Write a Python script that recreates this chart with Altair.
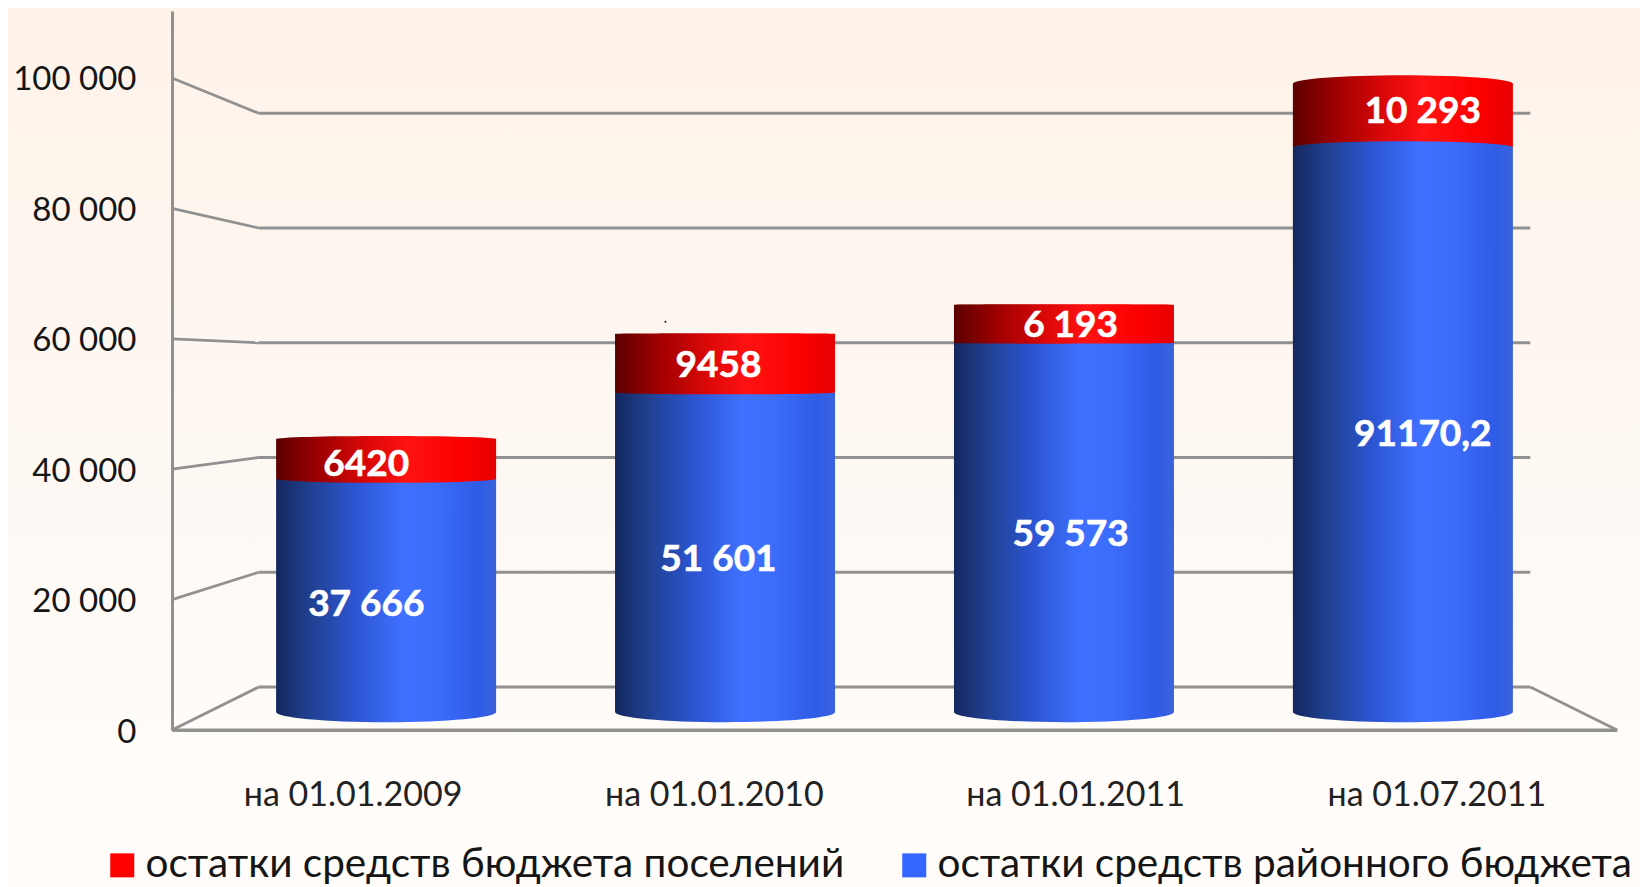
import json
import altair as alt
import pandas as pd

dates = ["на 01.01.2009", "на 01.01.2010", "на 01.01.2011", "на 01.07.2011"]
district = [37666, 51601, 59573, 91170.2]
settlement = [6420, 9458, 6193, 10293]
district_text = ["37 666", "51 601", "59 573", "91170,2"]
settlement_text = ["6420", "9458", "6 193", "10 293"]
ticks = [0, 20000, 40000, 60000, 80000, 100000]
series = ["остатки средств бюджета поселений", "остатки средств районного бюджета"]

FONT = "Lato"
GREY = "#919191"
W, H = 1445, 719
Y_MAX = 110276
PX_PER_UNIT = 652 / 100000     # front wall: 100 000 spans 652 px
HALF = 110 / (W / 4)           # bar half width in category units
HORIZON = 62883


def gy(v, d):
    """depth projection of a value onto the front-wall scale"""
    return v * (1 - 0.12 * d) + 6595 * d


def gx(c, d):
    return 2 + (c - 2) * (1 - 0.12 * d)


def ellipse(v):
    k = 0.036 if v > HORIZON else 0.026
    ry = k * abs(v - HORIZON) * PX_PER_UNIT
    r = round(max(ry, 0.6) / 110, 4)
    return f"M-1,0A1,{r} 0 0 0 1,0A1,{r} 0 0 0 -1,0Z"


def grad(stops, vertical=False):
    return {
        "gradient": "linear",
        "x1": 0, "y1": 0,
        "x2": 0 if vertical else 1,
        "y2": 1 if vertical else 0,
        "stops": [{"offset": o, "color": c} for o, c in stops],
    }


BLUE = grad([(0, "#14275f"), (0.15, "#20408f"), (0.36, "#2c55d2"), (0.58, "#3f70ff"),
             (0.72, "#3c6cfa"), (0.92, "#2f5ce6"), (1, "#3a63dc")])
RED = grad([(0, "#5c0000"), (0.2, "#a00000"), (0.42, "#dc0808"), (0.6, "#ff1212"),
            (0.85, "#fb0000"), (1, "#e60000")])
BG = grad([(0, "#fef3e9"), (0.5, "#fef8f3"), (0.85, "#fffcf9"), (1, "#fffcf9")], True)

x_scale = alt.Scale(domain=[0, 4], nice=False, zero=False)
y_scale = alt.Scale(domain=[0, Y_MAX], nice=False, zero=False)
x_axis = alt.Axis(
    values=[0.5, 1.5, 2.5, 3.5], ticks=False, grid=False, title=None, zindex=1,
    domainColor=GREY, domainWidth=3, labelFont=FONT, labelFontSize=34, labelColor="#222222",
    labelPadding=48, labelAngle=0, labelLimit=600, labelOverlap=False,
    labelExpr=json.dumps(dates, ensure_ascii=False) + "[floor(datum.value)]",
)
y_axis = alt.Axis(
    values=ticks, ticks=False, grid=False, title=None, zindex=1,
    domainColor=GREY, domainWidth=3, labelFont=FONT, labelFontSize=33, labelColor="#151515",
    labelPadding=36, labelOffset=2, labelExpr="replace(format(datum.value, ','), ',', ' ')",
)


def X(f="x"):
    return alt.X(f"{f}:Q", scale=x_scale, axis=x_axis, title=None)


def Y(f="y"):
    return alt.Y(f"{f}:Q", scale=y_scale, axis=y_axis, title=None)


# walls
wall_rows = []
for t in ticks:
    wall_rows.append(dict(x=0, x2=gx(0, 1), y=gy(t, 0), y2=gy(t, 1)))
    wall_rows.append(dict(x=gx(0, 1), x2=gx(4, 1), y=gy(t, 1), y2=gy(t, 1)))
wall_rows.append(dict(x=gx(4, 1), x2=4, y=gy(0, 1), y2=0))
wall_rows.append(dict(x=0, x2=4, y=0, y2=0))
walls = alt.Chart(pd.DataFrame(wall_rows)).mark_rule(color=GREY, strokeWidth=2.8).encode(
    x=X(), x2="x2:Q", y=Y(), y2="y2:Q"
)

# background
bg = alt.Chart(pd.DataFrame({"a": [0]})).mark_rect(color=BG).encode(
    x=alt.value(-164), x2=alt.value(1468), y=alt.value(-3), y2=alt.value(876)
)

# cylinders
D_BAR, D_X, D_TXT = 0.42, 0.515, 0.21
rows = []
for i, (b, r) in enumerate(zip(district, settlement)):
    cx = gx(i + 0.5, D_X)
    rows.append(dict(cx=cx, xl=cx - HALF, xr=cx + HALF,
                     y0=gy(0, D_BAR), y1=gy(b, D_BAR), y2=gy(b + r, D_BAR),
                     bottom=ellipse(gy(0, D_BAR)), top=ellipse(gy(b + r, D_BAR)), mid=ellipse(gy(b, D_BAR)),
                     above=gy(b, D_BAR) > HORIZON))
cyl = pd.DataFrame(rows)
SIZE = 220 ** 2


def ell(df, yf, shape, fill):
    return alt.Chart(df).mark_point(filled=True, color=fill, opacity=1, size=SIZE, strokeWidth=0).encode(
        x=X("cx"), y=Y(yf), shape=alt.Shape(f"{shape}:N", scale=None, legend=None)
    )


blue_bottom = ell(cyl, "y0", "bottom", BLUE)
blue_rect = alt.Chart(cyl).mark_rect(color=BLUE).encode(x=X("xl"), x2="xr:Q", y=Y("y0"), y2="y1:Q")
red_top = ell(cyl, "y2", "top", RED)
red_rect = alt.Chart(cyl).mark_rect(color=RED).encode(x=X("xl"), x2="xr:Q", y=Y("y1"), y2="y2:Q")
seam_blue = ell(cyl[cyl.above], "y1", "mid", BLUE)
seam_red = ell(cyl[~cyl.above], "y1", "mid", RED)

# value labels
label_rows = []
for i, (b, r) in enumerate(zip(district, settlement)):
    label_rows.append(dict(x=gx(i + 0.5, D_TXT), y=gy(b / 2, D_TXT), t=district_text[i]))
    label_rows.append(dict(x=gx(i + 0.5, D_TXT), y=gy(b + r / 2, D_TXT), t=settlement_text[i]))
labels = alt.Chart(pd.DataFrame(label_rows)).mark_text(
    font=FONT, fontSize=37, fontWeight="bold", color="white", align="center", baseline="middle",
    dy=3.5, stroke="white", strokeWidth=0.6
).encode(x=X(), y=Y(), text="t:N")

# stray dot present in the source picture
dot = alt.Chart(pd.DataFrame({"x": [1.366], "y": [62600]})).mark_point(
    filled=True, color="#111111", size=4, opacity=1
).encode(x=X(), y=Y())

# legend carrier
legend_df = pd.DataFrame({"s": series, "x": [0, 0], "y": [0, 0]})
legend = alt.Chart(legend_df).mark_point(filled=True, size=0, shape="square", opacity=1).encode(
    x=X(), y=Y(),
    color=alt.Color(
        "s:N",
        scale=alt.Scale(domain=series, range=["#ff0000", "#3366ff"]),
        legend=alt.Legend(
            orient="none", legendX=-70, legendY=834, direction="horizontal", columns=2, title=None,
            padding=0, symbolType="square", symbolSize=576, symbolStrokeWidth=0, symbolOpacity=1,
            labelFont=FONT, labelFontSize=40.5, labelColor="#151515", labelLimit=1200,
            labelOffset=3, columnPadding=49,
        ),
    ),
)

chart = alt.layer(
    bg, walls, blue_bottom, blue_rect, red_top, red_rect, seam_blue, seam_red, labels, dot, legend
).properties(
    width=W, height=H, autosize="none",
    padding={"left": 164, "top": 3, "right": 23, "bottom": 157},
).configure_view(stroke=None)

chart.save("out.html", embed_options={"renderer": "svg", "actions": False})
